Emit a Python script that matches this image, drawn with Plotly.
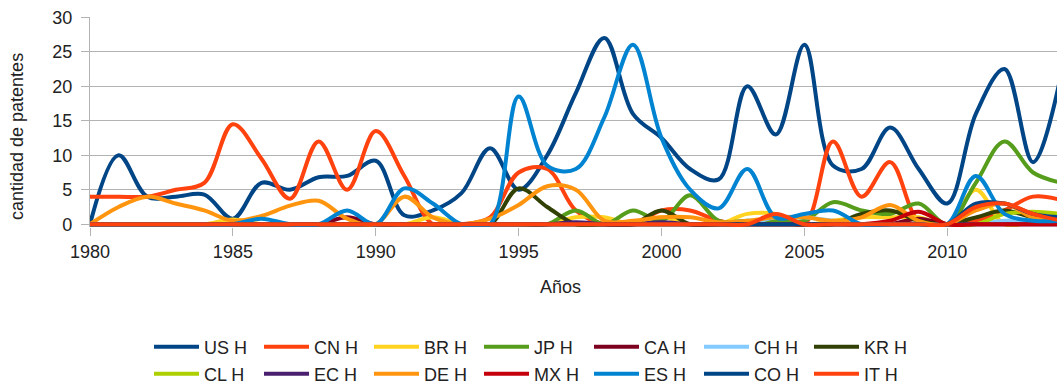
import plotly.graph_objects as go

# Yearly patent counts per country, 1980-2014
years = list(range(1980, 2015))

us_h = [0, 10, 4, 4, 4.3, 0.8, 6, 5, 6.8, 7, 9.2, 1.3, 2, 4.5, 11, 5, 10, 19, 27, 16,
        12.5, 8, 6.5, 20, 13, 26, 8.5, 8, 14, 8, 3, 16, 22.5, 9, 22]
cn_h = [4, 4, 4, 5, 6, 14.5, 9.5, 3.7, 12, 5, 13.5, 7, 0, 0, 1, 7.5, 8, 2, 0, 0,
        2, 2, 0.5, 0, 1, 0, 12, 4, 9, 0.5, 0, 0.5, 2, 4, 3.5]
br_h = [0, 0, 0, 0, 0, 0.7, 0, 0, 0, 0, 0, 0, 1, 0, 0, 0, 0, 1, 1, 0,
        1, 0, 0, 1.5, 1.5, 0, 0.5, 1, 1, 1, 0, 5, 0, 0.5, 1.7]
jp_h = [0, 0, 0, 0, 0, 0, 0, 0, 0, 0, 0, 0, 0, 0, 0, 0, 0, 2, 0, 2,
        0.5, 4.2, 0.5, 0.5, 0.5, 0.5, 3.2, 2, 1.5, 3, 0, 6, 12, 7.5, 6]
ca_h = [0, 0, 0, 0, 0, 0, 0, 0, 0, 1, 0, 0, 0, 0, 0, 0, 0, 0, 0, 0,
        0, 0, 0, 0, 0, 0, 0, 0, 0, 0.8, 0, 0, 0, 0, 0]
ch_h = [0, 0, 0, 0, 0, 0, 0, 0, 0, 0, 0, 0, 0, 0, 0, 0, 0, 0, 0, 0,
        0, 0, 0, 0, 1, 1, 0.5, 0, 0, 0, 0, 0, 0.5, 0.5, 0.5]
kr_h = [0, 0, 0, 0, 0, 0, 0, 0, 0, 0, 0, 0, 0, 0, 0, 5.2, 2.5, 0, 0, 0,
        2, 0, 0, 0, 0, 0, 0, 1.5, 2, 0.5, 0, 1, 2, 1, 1]
cl_h = [0, 0, 0, 0, 0, 0, 0, 0, 0, 0, 0, 0, 0, 0, 0, 0, 0, 0, 0, 0,
        0, 0, 0, 0, 0, 0, 0, 0, 0, 0, 0, 0, 1.5, 1.8, 1.5]
ec_h = [0, 0, 0, 0, 0, 0, 0, 0, 0, 0, 0, 0, 0, 0, 0, 0, 0, 0.3, 0, 0,
        0.3, 0, 0, 0, 0, 0, 0, 0, 0, 0, 0, 0, 0, 0, 0]
de_h = [0, 2.5, 4, 3, 2, 0.5, 1.2, 2.7, 3.4, 0.8, 0, 4, 1, 0, 0.8, 2.8, 5.5, 5, 0.5, 0.5,
        1, 1, 0.3, 0.5, 1, 1, 0.5, 1, 2.8, 0.5, 0, 2, 3, 1, 1]
mx_h = [0, 0, 0, 0, 0, 0, 0, 0, 0, 0, 0, 0, 0, 0, 0, 0, 0, 0, 0, 0,
        0, 0, 0, 0, 0, 0, 0, 0, 0.5, 1.8, 0, 0, 0, 0, 0]
es_h = [0, 0, 0, 0, 0, 0, 0.8, 0, 0, 2, 0, 5.2, 3, 0, 0, 18.5, 8.5, 8, 15.5, 26,
        12.5, 5, 2.3, 8, 1, 1.5, 2, 0, 0, 0, 0, 7, 1.5, 0.5, 0.5]
co_h = [0, 0, 0, 0, 0, 0, 0, 0, 0, 0, 0, 0, 0, 0, 0, 0, 0, 0, 0, 0,
        0, 0, 0, 0, 0, 0, 0, 0, 0, 0, 0, 3, 3, 1.5, 1]
it_h = [0, 0, 0, 0, 0, 0, 0, 0, 0, 0, 0, 0, 0, 0, 0, 0, 0, 0, 0, 0,
        0, 0, 0, 0, 1.5, 0, 0, 0, 0, 0, 0, 2.5, 3, 1.5, 0.5]

series = [
    ("US H", us_h, "#004586", "legend"),
    ("CN H", cn_h, "#ff420e", "legend"),
    ("BR H", br_h, "#ffd320", "legend"),
    ("JP H", jp_h, "#579d1c", "legend"),
    ("CA H", ca_h, "#7e0021", "legend"),
    ("CH H", ch_h, "#83caff", "legend"),
    ("KR H", kr_h, "#314004", "legend"),
    ("CL H", cl_h, "#aecf00", "legend2"),
    ("EC H", ec_h, "#4b1f6f", "legend2"),
    ("DE H", de_h, "#ff950e", "legend2"),
    ("MX H", mx_h, "#c5000b", "legend2"),
    ("ES H", es_h, "#0084d1", "legend2"),
    ("CO H", co_h, "#004586", "legend2"),
    ("IT H", it_h, "#ff420e", "legend2"),
]

FONT = "Liberation Sans, Arial, sans-serif"
TEXT = "#222222"
GRID = "#b3b3b3"
W, H = 1057, 385

fig = go.Figure()
for name, vals, color, leg in series:
    fig.add_trace(go.Scatter(
        x=years, y=vals, name=name, mode="lines",
        line=dict(color=color, width=4, shape="spline", smoothing=1.0),
        legend=leg,
    ))

legend_common = dict(
    orientation="h",
    xref="container", yref="container",
    xanchor="left", yanchor="middle",
    x=149 / W,
    entrywidth=50, entrywidthmode="pixels",
    font=dict(family=FONT, size=18, color=TEXT),
    bgcolor="rgba(0,0,0,0)",
    itemwidth=45,
    tracegroupgap=0,
)

fig.update_layout(
    width=W, height=H,
    margin=dict(l=90, r=0, t=17, b=158),
    paper_bgcolor="white", plot_bgcolor="white",
    font=dict(family=FONT, size=18, color=TEXT),
    showlegend=True,
    legend=dict(legend_common, y=1 - 347 / H),
    legend2=dict(legend_common, y=1 - 374 / H),
    xaxis=dict(
        range=[1980, 2013.84], tick0=1980, dtick=5,
        showgrid=False, zeroline=False, showline=False,
        ticks="outside", ticklen=8, tickcolor=GRID, tickwidth=1.3,
        tickfont=dict(family=FONT, size=18, color=TEXT),
    ),
    yaxis=dict(
        range=[-0.4, 30.03], tick0=0, dtick=5,
        showgrid=True, gridcolor=GRID, gridwidth=1.3,
        zeroline=False, showline=True, linecolor=GRID, linewidth=1.3,
        ticks="outside", ticklen=8, tickcolor=GRID, tickwidth=1.3,
        ticklabelstandoff=5,
        tickfont=dict(family=FONT, size=18, color=TEXT),
    ),
    annotations=[
        dict(text="Años", xref="paper", yref="paper",
             x=(560 - 90) / 967, y=-(287 - 227) / 210,
             xanchor="center", yanchor="middle", showarrow=False,
             font=dict(family=FONT, size=18, color=TEXT)),
        dict(text="cantidad de patentes", xref="paper", yref="paper",
             x=(17 - 90) / 967, y=(227 - 137) / 210, textangle=-90,
             xanchor="center", yanchor="middle", showarrow=False,
             font=dict(family=FONT, size=18, color=TEXT)),
    ],
)

fig.write_html("out.html")
